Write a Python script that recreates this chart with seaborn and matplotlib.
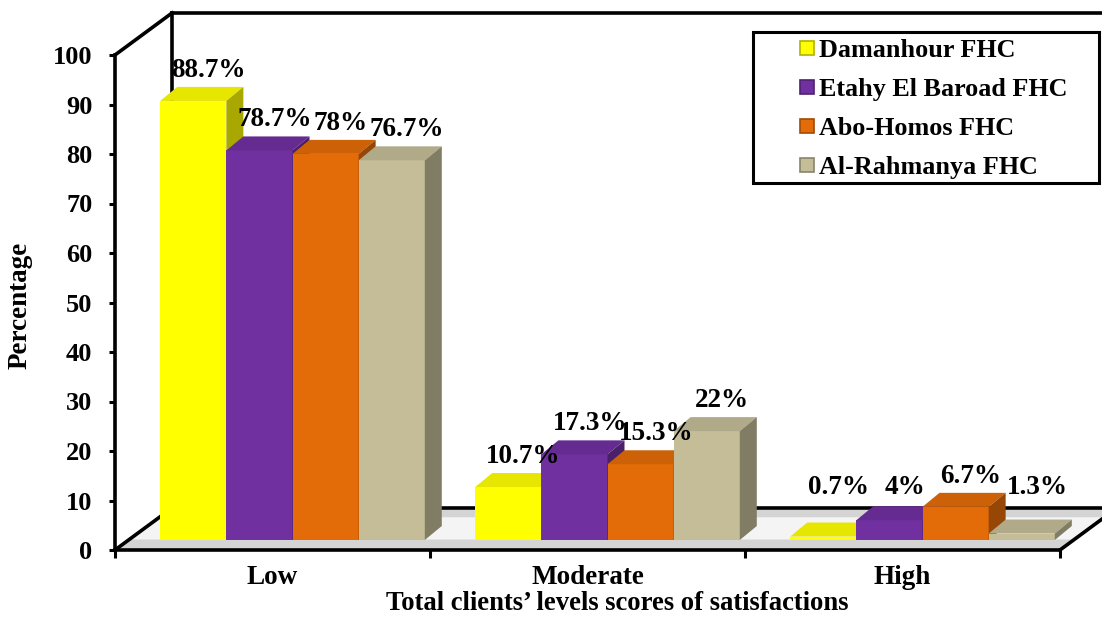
import numpy as np
import pandas as pd
import matplotlib
matplotlib.use("Agg")
import matplotlib.pyplot as plt
import matplotlib.colors as mcolors
from matplotlib.patches import Polygon, Rectangle
from matplotlib.lines import Line2D
from matplotlib.transforms import ScaledTranslation
import seaborn as sns

# ---- data -------------------------------------------------------------
levels = ["Low", "Moderate", "High"]
centers = ["Damanhour FHC", "Etahy El Baroad FHC", "Abo-Homos FHC", "Al-Rahmanya FHC"]
damanhour = [88.7, 10.7, 0.7]
etahy_el_baroad = [78.7, 17.3, 4.0]
abo_homos = [78.0, 15.3, 6.7]
al_rahmanya = [76.7, 22.0, 1.3]
y_ticks = list(range(0, 101, 10))

front_colors = ["#FFFF00", "#7030A0", "#E36C09", "#C4BD97"]

series = [damanhour, etahy_el_baroad, abo_homos, al_rahmanya]
df = pd.DataFrame(
    [(lvl, name, vals[i]) for name, vals in zip(centers, series) for i, lvl in enumerate(levels)],
    columns=["level", "center", "pct"],
)

# ---- style ------------------------------------------------------------
sns.set_style("white")
plt.rcParams["font.family"] = ["Liberation Serif", "DejaVu Serif"]
plt.rcParams["font.weight"] = "bold"
plt.rcParams["axes.labelweight"] = "bold"
for key in ["text.color", "axes.labelcolor", "xtick.color", "ytick.color"]:
    plt.rcParams[key] = "black"

W, H, DPI = 1102, 620, 100
fig = plt.figure(figsize=(W / DPI, H / DPI), dpi=DPI)
fig.patch.set_facecolor("white")

# front plane of the 3-D box, in pixels
left_px, right_px, base_px, top_px = 115, 1060, 550, 55
ax = fig.add_axes([left_px / W, 1 - base_px / H,
                   (right_px - left_px) / W, (base_px - top_px) / H])
ax.set_facecolor("none")

sns.barplot(data=df, x="level", y="pct", hue="center", order=levels,
            hue_order=centers, palette=front_colors, saturation=1,
            width=0.84, errorbar=None, edgecolor="none", linewidth=0,
            legend=False, ax=ax)
bars = sorted([p for p in ax.patches if isinstance(p, Rectangle)],
              key=lambda p: p.get_x())

ax.set_xlim(-0.5, 2.5)
ax.set_ylim(0, 100)
xmin, xmax = ax.get_xlim()
ymin, ymax = ax.get_ylim()
ux = (xmax - xmin) / ax.bbox.width    # data units per pixel (x)
uy = (ymax - ymin) / ax.bbox.height   # data units per pixel (y)

# depth of the box and of each bar, in pixels (right, up)
box_dx, box_dy = 57, 42
bar_dx, bar_dy = 17, 14
Dx, Dy = box_dx * ux, box_dy * uy
dx, dy = bar_dx * ux, bar_dy * uy

# ---- floor and back walls --------------------------------------------
far_x = xmax + Dx + 0.5
floor = Polygon([(xmin, 0), (xmax, 0), (xmax + Dx, Dy), (xmin + Dx, Dy)],
                closed=True, facecolor="#D4D4D4", edgecolor="none",
                zorder=0.5, clip_on=False)
ax.add_patch(floor)
inner = Polygon([(xmin + 0.25 * Dx, 0.25 * Dy), (xmax + 0.25 * Dx, 0.25 * Dy),
                 (xmax + 0.78 * Dx, 0.78 * Dy), (xmin + 0.78 * Dx, 0.78 * Dy)],
                closed=True, facecolor="#F4F4F4", edgecolor="none",
                zorder=0.6, clip_on=False)
ax.add_patch(inner)

line_kw = dict(color="black", lw=2.6, solid_capstyle="projecting", clip_on=False, zorder=1)
ax.plot([xmin, xmin + Dx], [ymax, ymax + Dy], **line_kw)          # left wall top
ax.plot([xmin, xmin + Dx], [0, Dy], **line_kw)                    # left wall bottom
ax.plot([xmin + Dx, xmin + Dx], [Dy, ymax + Dy], **line_kw)       # back wall left edge
ax.plot([xmin + Dx, far_x], [ymax + Dy, ymax + Dy], **line_kw)    # back wall top
ax.plot([xmin + Dx, far_x], [Dy, Dy], **line_kw)                  # back floor edge
ax.plot([xmax, xmax + Dx], [0, Dy], **line_kw)                    # right floor edge

# ---- 3-D bars ---------------------------------------------------------
shift = ax.transData + ScaledTranslation(20 / DPI, 10 / DPI, fig.dpi_scale_trans)


def shade(color, f):
    r, g, b, _ = mcolors.to_rgba(color)
    return (r * f, g * f, b * f)


gap = 4 * uy
min_label = 40 * uy
for i, bar in enumerate(bars):
    x0, y0 = bar.get_x(), bar.get_y()
    w, h = bar.get_width(), bar.get_height()
    fc = bar.get_facecolor()
    z = 3 + 0.01 * i
    bar.set_transform(shift)
    bar.set_zorder(z)
    top = Polygon([(x0, y0 + h), (x0 + w, y0 + h), (x0 + w + dx, y0 + h + dy),
                   (x0 + dx, y0 + h + dy)], closed=True, transform=shift,
                  facecolor=shade(fc, 0.9), edgecolor="none", zorder=z, clip_on=False)
    side = Polygon([(x0 + w, y0), (x0 + w, y0 + h), (x0 + w + dx, y0 + h + dy),
                    (x0 + w + dx, y0 + dy)], closed=True, transform=shift,
                   facecolor=shade(fc, 0.66), edgecolor="none", zorder=z, clip_on=False)
    ax.add_patch(top)
    ax.add_patch(side)
    ly = max(y0 + h + dy + gap, min_label)
    ax.text(x0 + w / 2 + 0.9 * dx, ly, f"{h:g}%", transform=shift,
            ha="center", va="bottom", fontsize=19.5, fontweight="bold",
            color="black", zorder=10, clip_on=False)

# ---- axes, ticks, labels ---------------------------------------------
for s in ["top", "right"]:
    ax.spines[s].set_visible(False)
for s in ["left", "bottom"]:
    ax.spines[s].set_visible(True)
    ax.spines[s].set_color("black")
    ax.spines[s].set_linewidth(2.6)
    ax.spines[s].set_zorder(2)

ax.set_yticks(y_ticks)
ax.set_yticklabels([str(t) for t in y_ticks], fontsize=19, fontweight="bold")
ax.tick_params(axis="y", direction="out", length=6 * 0.72, width=2.2,
               color="black", labelcolor="black", pad=12, left=True)

ax.set_xticks(range(len(levels)))
ax.set_xticklabels(levels, fontsize=19.5, fontweight="bold")
ax.tick_params(axis="x", which="major", length=0, pad=11, labelcolor="black")
ax.set_xticks([xmin + k for k in range(len(levels) + 1)], minor=True)
ax.tick_params(axis="x", which="minor", direction="out", length=8 * 0.72,
               width=2.2, color="black", bottom=True)

ax.set_ylabel("Percentage", fontsize=19.5, fontweight="bold", color="black")
ax.yaxis.set_label_coords((33 - left_px) / (right_px - left_px), 0.495)
ax.set_xlabel("Total clients\u2019 levels scores of satisfactions",
              fontsize=19.2, fontweight="bold", color="black")
ax.xaxis.set_label_coords((617 - left_px) / (right_px - left_px),
                          (base_px - 590.5) / (base_px - top_px))
ax.grid(False)

# ---- legend -----------------------------------------------------------
fig.patches.append(Rectangle((753 / W, 1 - 183 / H), (1099 - 753) / W, (183 - 32) / H,
                             transform=fig.transFigure, facecolor="white",
                             edgecolor="black", linewidth=2.2, zorder=5))
handles = [Line2D([], [], marker="s", linestyle="none", markersize=9.4,
                  markerfacecolor=c, markeredgecolor=shade(c, 0.7), markeredgewidth=1.2)
           for c in front_colors]
leg = fig.legend(handles, centers, loc="upper left",
                 bbox_to_anchor=(797 / W, 1 - 39 / H), frameon=False,
                 prop={"family": "Liberation Serif", "weight": "bold", "size": 18.8},
                 handlelength=0.8, handletextpad=0.05, labelspacing=0.6,
                 borderpad=0.0, borderaxespad=0.0)
for t in leg.get_texts():
    t.set_color("black")
leg.set_zorder(6)

fig.savefig("out.png", dpi=DPI, facecolor="white")
